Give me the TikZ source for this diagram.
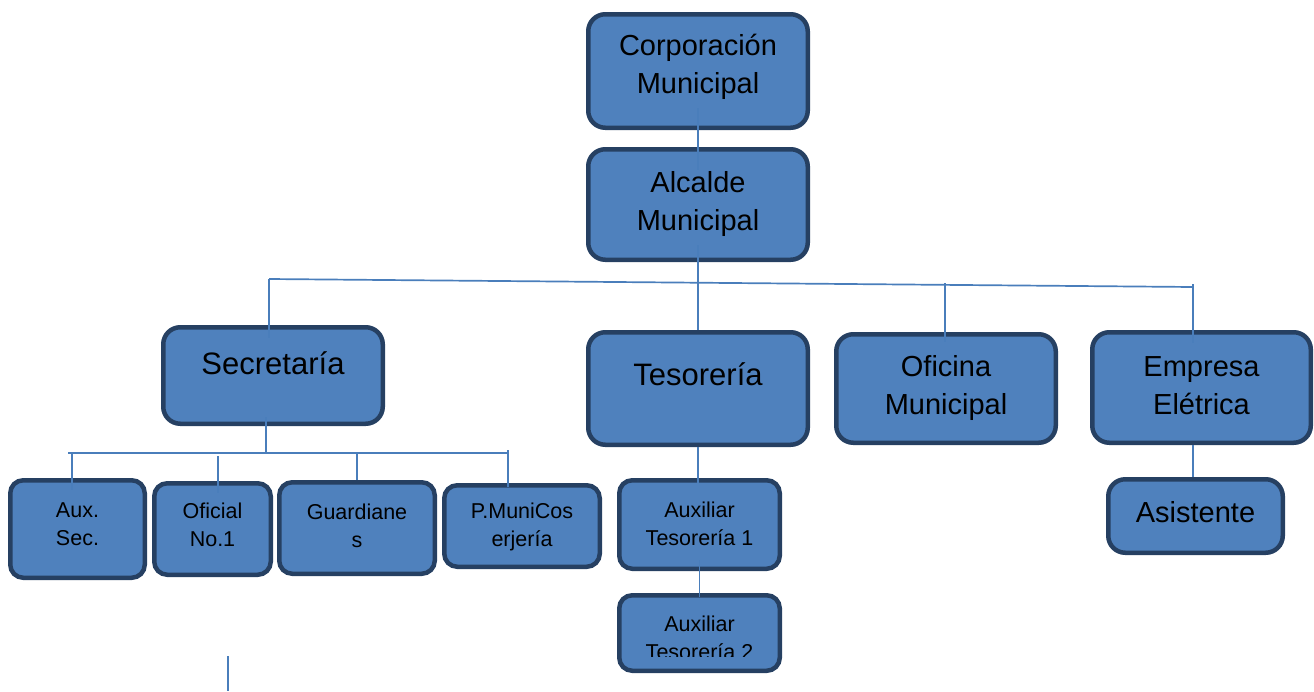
\documentclass[tikz,border=0pt]{standalone}
\usepackage{fontspec}
\setmainfont{Liberation Sans}
\usetikzlibrary{calc}
\definecolor{boxfill}{RGB}{79,129,189}
\definecolor{boxline}{RGB}{38,64,98}
\definecolor{wireblue}{RGB}{74,126,187}
\tikzset{
  box/.style={draw=boxline, fill=boxfill, line width=4.5pt, rounded corners=17pt, inner sep=0pt},
  smallbox/.style={box, rounded corners=13pt},
  bigtxt/.style={align=center, inner sep=0pt, font=\fontsize{29}{38}\selectfont},
  midtxt/.style={align=center, inner sep=0pt, font=\fontsize{31}{38}\selectfont},
  smalltxt/.style={align=center, inner sep=0pt, font=\fontsize{21.5}{28}\selectfont},
  wire/.style={draw=wireblue, line width=1.7pt}
}
\begin{document}
\begin{tikzpicture}[x=1pt,y=-1pt]
    \useasboundingbox (0,0) rectangle (1314,691);

    % top
    \node[box, minimum width=219.5pt, minimum height=113.5pt] (corp) at (698,71) {};
    \node[bigtxt] (corpT) at (698,67) {Corporación\\Municipal};
    \node[box, minimum width=219.5pt, minimum height=110.5pt] (alc) at (698,204.5) {};
    \node[bigtxt] (alcT) at (698,203.5) {Alcalde\\Municipal};

    % second row
    \node[box, minimum width=219.5pt, minimum height=96.5pt] (sec) at (273,375.5) {};
    \node[midtxt] (secT) at (273,363) {Secretaría};
    \node[box, minimum width=219.5pt, minimum height=112.5pt] (tes) at (698,388.5) {};
    \node[midtxt] (tesT) at (698,374) {Tesorería};
    \node[box, minimum width=219.5pt, minimum height=108.5pt] (ofi) at (946,388.5) {};
    \node[bigtxt] (ofiT) at (946,387.5) {Oficina\\Municipal};
    \node[box, minimum width=218.5pt, minimum height=110.5pt] (emp) at (1201.5,387.5) {};
    \node[bigtxt] (empT) at (1201.5,386) {Empresa\\Elétrica};
    \node[box, minimum width=174.5pt, minimum height=73.5pt] (asis) at (1195.5,516) {};
    \node[bigtxt] (asisT) at (1195.5,512) {Asistente};

    % third row
    \node[smallbox, minimum width=134.5pt, minimum height=97.5pt] (auxsec) at (77.5,529) {};
    \node[smalltxt] (auxsecT) at (77.5,524) {Aux.\\Sec.};
    \node[smallbox, minimum width=116.5pt, minimum height=91.5pt] (ofic) at (212.5,529) {};
    \node[smalltxt] (oficT) at (212.5,525) {Oficial\\No.1};
    \node[smallbox, minimum width=155.5pt, minimum height=91.5pt] (guard) at (357,528) {};
    \node[smalltxt] (guardT) at (357,525.5) {Guardiane\\s};
    \node[smallbox, minimum width=155.5pt, minimum height=81.5pt] (pmuni) at (522,526) {};
    \node[smalltxt] (pmuniT) at (522,526.5) {P.MuniCos\\erjería};
    \node[smallbox, minimum width=160.5pt, minimum height=88.5pt] (aux1) at (699.5,524.5) {};
    \node[smalltxt] (aux1T) at (699.5,523.5) {Auxiliar\\Tesorería 1};
    \node[smallbox, minimum width=160.5pt, minimum height=75.5pt] (aux2) at (699.5,633) {};
    \begin{scope}
      \clip (617,600) rectangle (782,656);
      \node[smalltxt] (aux2T) at (699.5,637.5) {Auxiliar\\Tesorería 2};
    \end{scope}

    % connectors
    \coordinate (busL) at (269,279);
    \coordinate (busR) at (1193,287);
    \coordinate (busO) at (945,283);
    \draw[wire] ($(corp.south)+(0,-22)$) -- ($(alc.north)+(0,23)$);
    \draw[wire] ($(alc.south)+(0,-17)$) -- (tes.north);
    \draw[wire] (busL) -- (busR);
    \draw[wire] (busL) -- ($(busL |- sec.north)+(0,13)$);
    \draw[wire] (busO) -- ($(busO |- ofi.north)+(0,10)$);
    \draw[wire] ($(busR)+(0,-3)$) -- ($(busR |- emp.north)+(0,13)$);
    \draw[wire] (emp.south -| busR) -- (asis.north -| busR);

    \coordinate (secbusL) at (68,453);
    \coordinate (secbusR) at (508,453);
    \coordinate (secdrop) at (266,453);
    \draw[wire] ($(secdrop |- sec.south)+(0,-9)$) -- (secdrop);
    \draw[wire] (secbusL) -- (secbusR);
    \coordinate (dA) at (72,453);
    \coordinate (dO) at (218,456);
    \coordinate (dG) at (357,453);
    \coordinate (dP) at (508,450);
    \draw[wire] (dA) -- ($(dA |- auxsec.north)+(0,12)$);
    \draw[wire] (dO) -- ($(dO |- ofic.north)+(0,12)$);
    \draw[wire] (dG) -- (dG |- guard.north);
    \draw[wire] (dP) -- ($(dP |- pmuni.north)+(0,4)$);

    \draw[wire] (tes.south) -- ($(tes.south |- aux1.north)+(0,5)$);
    \draw[wire] ($(aux1.south)+(0,-11)$) -- ($(aux2.north)+(0,4)$);

    \coordinate (strayA) at (228,656);
    \coordinate (strayB) at (228,691);
    \draw[wire] (strayA) -- (strayB);
\end{tikzpicture}
\end{document}
